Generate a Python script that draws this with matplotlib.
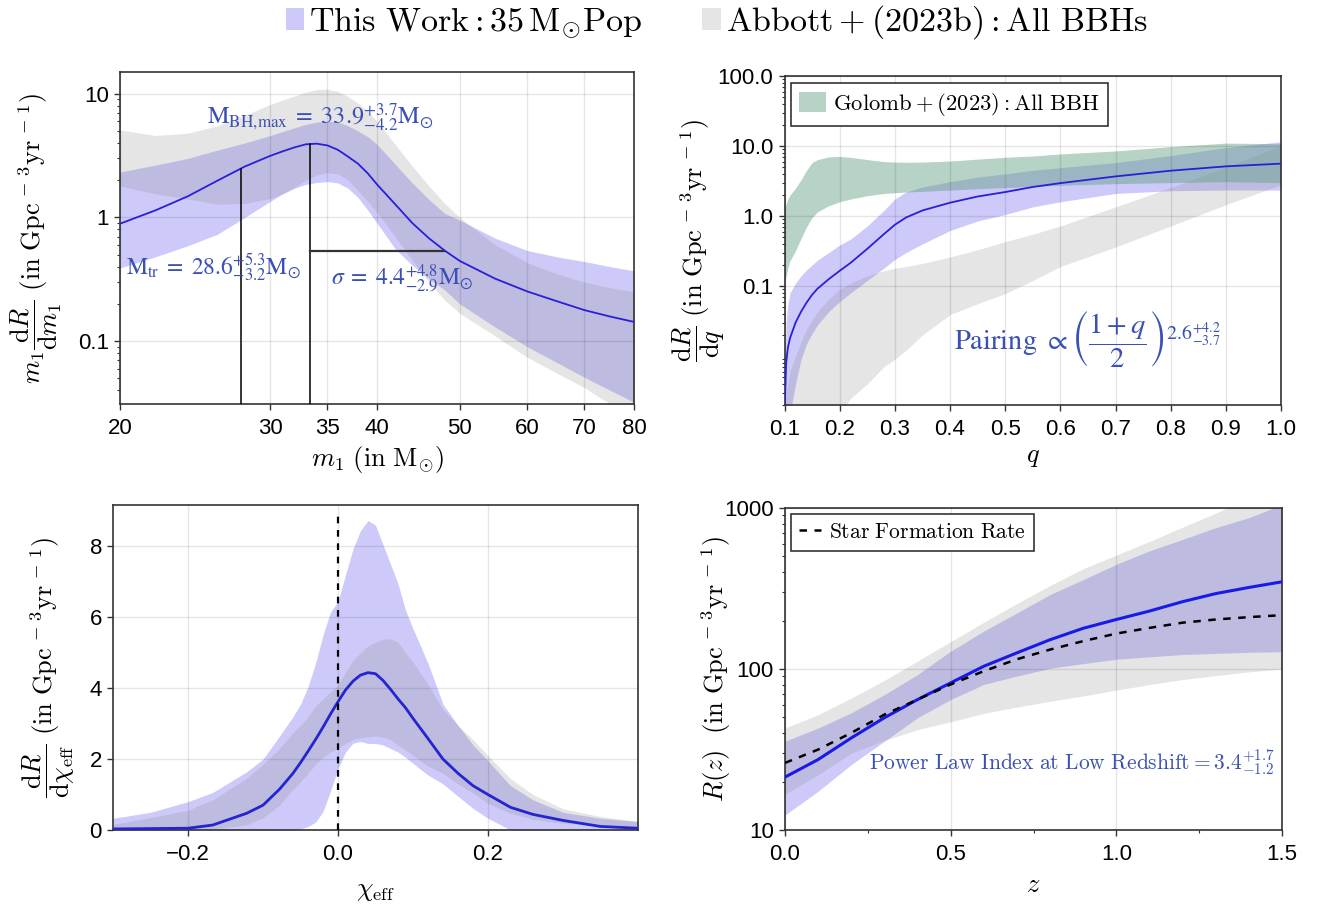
import matplotlib
matplotlib.use("Agg")
import matplotlib.pyplot as plt
import numpy as np
from matplotlib.patches import Patch
from matplotlib.lines import Line2D
from matplotlib.ticker import FixedLocator, NullFormatter, LogLocator

plt.rcParams['mathtext.fontset'] = 'cm'
plt.rcParams['font.family'] = ['Liberation Sans', 'DejaVu Sans']
plt.rcParams['axes.unicode_minus'] = True
TICKSIZE = 16

# ---------------- data: panel 1 (primary mass) ----------------
m1 = [20, 22, 24, 26, 28, 30, 31, 32, 33, 34, 35, 36, 37, 38, 39, 40, 42, 44, 46, 48, 50, 55, 60, 65, 70, 75, 80]
m1_med = [0.89, 1.14, 1.48, 1.98, 2.58, 3.15, 3.42, 3.68, 3.9, 3.95, 3.82, 3.52, 3.1, 2.72, 2.28, 1.85, 1.28, 0.9, 0.68, 0.54, 0.445, 0.32, 0.252, 0.21, 0.178, 0.158, 0.143]
m1_hi = [2.33, 2.65, 3.0, 3.5, 4.0, 4.6, 4.95, 5.3, 5.65, 5.9, 6.0, 5.9, 5.5, 5.0, 4.5, 3.9, 2.7, 1.9, 1.4, 1.08, 0.95, 0.68, 0.54, 0.48, 0.44, 0.4, 0.37]
m1_lo = [0.39, 0.48, 0.59, 0.73, 1.0, 1.35, 1.55, 1.72, 1.85, 1.92, 1.95, 1.9, 1.72, 1.45, 1.15, 0.9, 0.56, 0.41, 0.32, 0.26, 0.2, 0.13, 0.09, 0.067, 0.051, 0.04, 0.032]
m1_ab_hi = [5.1, 4.6, 4.8, 5.5, 6.7, 8.2, 8.9, 9.6, 10.3, 10.8, 10.9, 10.4, 9.5, 8.4, 7.2, 6.0, 3.9, 2.6, 1.8, 1.3, 1.0, 0.6, 0.43, 0.35, 0.30, 0.27, 0.25]
m1_ab_lo = [1.8, 1.55, 1.41, 1.28, 1.3, 1.42, 1.55, 1.75, 2.0, 2.2, 2.3, 2.25, 2.0, 1.65, 1.35, 1.1, 0.7, 0.45, 0.3, 0.215, 0.168, 0.11, 0.074, 0.055, 0.042, 0.031, 0.023]
m1_ticks = [20, 30, 35, 40, 50, 60, 70, 80]
m_tr_line = 27.7
m_max_line = 33.4
sigma_end = 47.9
sigma_level = 0.54

# ---------------- data: panel 2 (mass ratio) ----------------
q = [0.1, 0.103, 0.106, 0.11, 0.12, 0.13, 0.14, 0.15, 0.16, 0.18, 0.2, 0.22, 0.25, 0.28, 0.3, 0.32, 0.35, 0.4, 0.45, 0.5, 0.55, 0.6, 0.7, 0.8, 0.9, 1.0]
q_med = [0.0015, 0.008, 0.013, 0.018, 0.03, 0.043, 0.058, 0.075, 0.092, 0.125, 0.165, 0.215, 0.34, 0.55, 0.75, 0.95, 1.2, 1.55, 1.9, 2.2, 2.6, 2.95, 3.68, 4.44, 5.12, 5.6]
q_hi = [0.0018, 0.03, 0.055, 0.08, 0.11, 0.14, 0.17, 0.2, 0.235, 0.3, 0.385, 0.47, 0.72, 1.2, 1.75, 2.2, 2.6, 3.1, 3.6, 4.0, 4.5, 4.9, 5.8, 7.3, 9.5, 11.5]
q_lo = [0.001, 0.001, 0.001, 0.0015, 0.004, 0.009, 0.015, 0.021, 0.028, 0.043, 0.06, 0.08, 0.12, 0.18, 0.24, 0.3, 0.4, 0.62, 0.85, 1.05, 1.35, 1.6, 2.1, 2.3, 2.35, 2.35]
q_ab_hi = [0.0018, 0.003, 0.004, 0.006, 0.01, 0.016, 0.024, 0.033, 0.043, 0.065, 0.09, 0.11, 0.14, 0.165, 0.18, 0.19, 0.21, 0.26, 0.33, 0.43, 0.55, 0.72, 1.35, 2.55, 5.0, 10.0]
q_ab_lo = [0.001, 0.001, 0.001, 0.001, 0.001, 0.001, 0.001, 0.001, 0.001, 0.001, 0.0015, 0.0025, 0.004, 0.007, 0.009, 0.012, 0.02, 0.039, 0.056, 0.078, 0.12, 0.19, 0.36, 0.72, 1.45, 2.8]
q_go_hi = [1.25, 1.5, 1.75, 2.0, 2.5, 3.3, 4.5, 5.8, 6.4, 7.0, 7.1, 6.9, 6.4, 6.0, 5.9, 5.85, 5.9, 6.1, 6.5, 6.9, 7.2, 7.7, 8.5, 9.8, 11.0, 10.8]
q_go_lo = [0.11, 0.14, 0.18, 0.23, 0.32, 0.48, 0.7, 0.95, 1.15, 1.4, 1.6, 1.75, 1.95, 2.1, 2.15, 2.2, 2.25, 2.35, 2.45, 2.55, 2.65, 2.75, 2.9, 3.0, 3.1, 3.0]
q_ticks = [0.1, 0.2, 0.3, 0.4, 0.5, 0.6, 0.7, 0.8, 0.9, 1.0]

# ---------------- data: panel 3 (effective spin) ----------------
chi = [-0.3, -0.25, -0.2, -0.167, -0.122, -0.1, -0.078, -0.06, -0.05, -0.04, -0.03, -0.02, -0.01, 0.0, 0.01, 0.02, 0.03, 0.04, 0.05, 0.06, 0.07, 0.08, 0.09, 0.1, 0.12, 0.14, 0.16, 0.18, 0.2, 0.23, 0.26, 0.3, 0.35, 0.4]
chi_med = [0.03, 0.04, 0.05, 0.14, 0.47, 0.7, 1.15, 1.6, 1.9, 2.22, 2.55, 2.9, 3.27, 3.62, 3.95, 4.2, 4.37, 4.44, 4.41, 4.22, 3.97, 3.7, 3.45, 3.15, 2.58, 2.0, 1.6, 1.25, 1.0, 0.64, 0.44, 0.27, 0.1, 0.05]
chi_hi = [0.33, 0.5, 0.8, 1.06, 1.64, 2.0, 2.65, 3.2, 3.55, 4.04, 4.7, 5.5, 6.15, 6.45, 7.2, 7.93, 8.45, 8.73, 8.6, 8.05, 7.5, 6.95, 6.2, 5.68, 4.7, 3.55, 2.95, 2.4, 1.95, 1.25, 0.85, 0.5, 0.33, 0.24]
chi_lo = [0, 0, 0, 0, 0, 0, 0, 0, 0.03, 0.1, 0.22, 0.52, 1.1, 1.74, 2.2, 2.45, 2.5, 2.44, 2.44, 2.4, 2.3, 2.2, 2.05, 1.88, 1.55, 1.3, 0.95, 0.61, 0.33, 0.0, 0, 0, 0, 0]
chi_ab_hi = [0.16, 0.35, 0.56, 0.85, 1.46, 1.85, 2.3, 2.75, 2.96, 3.2, 3.5, 3.7, 3.9, 4.08, 4.45, 4.79, 5.0, 5.2, 5.3, 5.38, 5.4, 5.3, 5.0, 4.74, 4.1, 3.4, 2.95, 2.55, 2.1, 1.45, 1.0, 0.6, 0.38, 0.24]
chi_ab_lo = [0.0, 0.0, 0.01, 0.03, 0.14, 0.35, 0.7, 1.15, 1.36, 1.6, 1.85, 2.05, 2.2, 2.3, 2.45, 2.55, 2.6, 2.63, 2.65, 2.62, 2.55, 2.4, 2.25, 2.11, 1.8, 1.6, 1.3, 1.04, 0.75, 0.47, 0.3, 0.19, 0.13, 0.09]
chi_ticks = [-0.2, 0.0, 0.2]
chi_yticks = [0, 2, 4, 6, 8]

# ---------------- data: panel 4 (redshift) ----------------
z = [0.0, 0.1, 0.2, 0.3, 0.4, 0.5, 0.6, 0.7, 0.8, 0.9, 1.0, 1.1, 1.2, 1.3, 1.4, 1.5]
z_med = [21.3, 27.4, 37.3, 49.8, 64.6, 82, 104, 126, 152, 179, 203, 229, 262, 294, 321, 348]
z_sfr = [26.1, 31.6, 40.1, 52.1, 64.6, 80.2, 97, 115, 132, 149, 166, 180, 194, 203, 210, 216]
z_hi = [35.6, 43, 53.4, 69.3, 92.4, 129, 172, 223, 290, 359, 447, 542, 638, 755, 870, 1050]
z_lo = [12.4, 17.4, 25.5, 35.6, 49.8, 64.6, 80.2, 90.4, 101, 108, 115, 119, 123, 125, 127, 128]
z_ab_hi = [43, 52, 66, 85, 112, 148, 195, 255, 330, 420, 510, 620, 760, 930, 1150, 1400]
z_ab_lo = [16.7, 22, 30, 36, 42, 47, 53, 58, 63, 68, 74, 80, 86, 91, 96, 100]
z_ticks = [0.0, 0.5, 1.0, 1.5]

# ---------------- styles ----------------
PURPLE = '#cdcafa'
GREY = '#898989'
GREY_A = 0.22
GREEN = '#5f9f7f'
GREEN_A = 0.45
TXT = '#3a50b4'
W, H = 1320, 908

fig = plt.figure(figsize=(W / 100, H / 100), dpi=100)

def px_axes(l, r, t, b):
    return fig.add_axes([l / W, 1 - b / H, (r - l) / W, (b - t) / H])

ax1 = px_axes(120, 634, 72, 404)
ax2 = px_axes(784.5, 1281, 76, 405)
ax3 = px_axes(113, 638, 505, 830)
ax4 = px_axes(785, 1282, 508, 830)

def style(ax):
    for s in ax.spines.values():
        s.set_color('#333333')
        s.set_linewidth(1.2)
    ax.tick_params(which='both', direction='out', colors='#333333', labelcolor='black',
                   labelsize=TICKSIZE)
    ax.tick_params(axis='x', which='both', pad=6)
    ax.tick_params(axis='y', which='both', pad=4)
    ax.tick_params(which='major', length=4, width=1)
    ax.tick_params(which='minor', length=2.5, width=0.8)
    ax.grid(True, which='major', color='black', alpha=0.1, lw=1)
    ax.set_axisbelow(False)

LBL = 19
UNIT = r"\ (\mathrm{in\ Gpc}^{\,-\,3}\mathrm{yr}^{\,-\,1})"

# ---- panel 1 ----
ax1.fill_between(m1, m1_lo, m1_hi, color=PURPLE, lw=0)
ax1.fill_between(m1, m1_ab_lo, m1_ab_hi, color=GREY, alpha=GREY_A, lw=0)
ax1.plot(m1, m1_med, color='#2a1fd8', lw=1.3, zorder=5)
ax1.set_xscale('log'); ax1.set_yscale('log')
ax1.set_xlim(20, 80); ax1.set_ylim(0.031, 15)
ax1.xaxis.set_major_locator(FixedLocator(m1_ticks))
ax1.set_xticklabels([str(t) for t in m1_ticks])
ax1.xaxis.set_minor_locator(FixedLocator([]))
ax1.xaxis.set_minor_formatter(NullFormatter())
ax1.yaxis.set_major_locator(FixedLocator([0.1, 1, 10]))
ax1.set_yticklabels(['0.1', '1', '10'])
ax1.yaxis.set_minor_locator(LogLocator(base=10, subs=np.arange(2, 10)))
ax1.yaxis.set_minor_formatter(NullFormatter())
style(ax1)
med_tr = np.exp(np.interp(np.log(m_tr_line), np.log(m1), np.log(m1_med)))
med_max = np.exp(np.interp(np.log(m_max_line), np.log(m1), np.log(m1_med)))
ax1.plot([m_tr_line, m_tr_line], [0.031, med_tr], color='black', lw=1.1, zorder=6)
ax1.plot([m_max_line, m_max_line], [0.031, med_max], color='black', lw=1.1, zorder=6)
ax1.plot([m_max_line, sigma_end], [sigma_level, sigma_level], color='#333333', lw=1.6, zorder=6)
ax1.text(0.39, 0.862, r"$\mathrm{M_{BH,\!max}}\;=\;33.9^{+3.7}_{-4.2}\mathrm{M}_{\odot}$",
         transform=ax1.transAxes, ha='center', va='center', color=TXT, fontsize=17.5,
         math_fontfamily='stix', zorder=7)
ax1.text(0.012, 0.41, r"$\mathrm{M_{tr}}\;=\;28.6^{+5.3}_{-3.2}\mathrm{M}_{\odot}$",
         transform=ax1.transAxes, ha='left', va='center', color=TXT, fontsize=17,
         math_fontfamily='stix', zorder=7)
ax1.text(0.41, 0.38, r"$\sigma\;=\;4.4^{+4.8}_{-2.9}\mathrm{M}_{\odot}$",
         transform=ax1.transAxes, ha='left', va='center', color=TXT, fontsize=17,
         math_fontfamily='stix', zorder=7)
ax1.set_xlabel(r"$m_1\ (\mathrm{in\ M}_{\odot})$", fontsize=LBL, labelpad=4)
ax1.set_ylabel(r"$m_1\dfrac{\mathrm{d}R}{\mathrm{d}m_1}" + UNIT + "$", fontsize=LBL)
ax1.yaxis.set_label_coords(-0.108, 0.5)

# ---- panel 2 ----
ax2.fill_between(q, q_lo, q_hi, color=PURPLE, lw=0)
ax2.fill_between(q, q_ab_lo, q_ab_hi, color=GREY, alpha=GREY_A, lw=0)
ax2.fill_between(q, q_go_lo, q_go_hi, color=GREEN, alpha=GREEN_A, lw=0)
ax2.plot(q, q_med, color='#2a1fd8', lw=1.3, zorder=5)
ax2.set_yscale('log')
ax2.set_xlim(0.1, 1.0); ax2.set_ylim(0.002, 100)
ax2.xaxis.set_major_locator(FixedLocator(q_ticks))
ax2.set_xticklabels(['%.1f' % t for t in q_ticks])
ax2.yaxis.set_major_locator(FixedLocator([0.1, 1, 10, 100]))
ax2.set_yticklabels(['0.1', '1.0', '10.0', '100.0'])
ax2.yaxis.set_minor_locator(LogLocator(base=10, subs=np.arange(2, 10)))
ax2.yaxis.set_minor_formatter(NullFormatter())
style(ax2)
leg2 = ax2.legend(handles=[Patch(fc=GREEN, alpha=GREEN_A, ec='none')],
                  labels=[r"$\mathrm{Golomb + (2023) : All\ BBH}$"],
                  loc='upper left', fontsize=16.3, frameon=True, fancybox=False,
                  edgecolor='#333333', framealpha=1, borderaxespad=0.3,
                  borderpad=0.35, handlelength=1.2, handleheight=1.0, handletextpad=0.3)
leg2.get_frame().set_linewidth(1.2)
ax2.text(0.61, 0.2, r"Pairing $\propto \left(\dfrac{1+q}{2}\right)^{2.6^{+4.2}_{-3.7}}$",
         transform=ax2.transAxes, ha='center', va='center', color=TXT, fontsize=20.5,
         family='STIXGeneral', math_fontfamily='stix')
ax2.set_xlabel(r"$q$", fontsize=LBL, labelpad=4)
ax2.set_ylabel(r"$\dfrac{\mathrm{d}R}{\mathrm{d}q}" + UNIT + "$", fontsize=LBL)
ax2.yaxis.set_label_coords(-0.116, 0.5)

# ---- panel 3 ----
ax3.fill_between(chi, chi_lo, chi_hi, color=PURPLE, lw=0)
ax3.fill_between(chi, chi_ab_lo, chi_ab_hi, color=GREY, alpha=GREY_A, lw=0)
ax3.plot(chi, chi_med, color='#2424d0', lw=2, zorder=5)
ax3.plot([0, 0], [0, 9.0], color='black', lw=1.6, ls=(0, (3, 3)), zorder=6)
ax3.set_xlim(-0.3, 0.4); ax3.set_ylim(0, 9.17)
ax3.xaxis.set_major_locator(FixedLocator(chi_ticks))
ax3.set_xticklabels(['\u22120.2', '0.0', '0.2'])
ax3.yaxis.set_major_locator(FixedLocator(chi_yticks))
ax3.set_yticklabels([str(t) for t in chi_yticks])
style(ax3)
ax3.set_xlabel(r"$\chi_{\rm eff}$", fontsize=LBL, labelpad=10)
ax3.set_ylabel(r"$\dfrac{\mathrm{d}R}{\mathrm{d}\chi_{\rm eff}}" + UNIT + "$", fontsize=LBL)
ax3.yaxis.set_label_coords(-0.068, 0.5)

# ---- panel 4 ----
ax4.fill_between(z, z_lo, z_hi, color=PURPLE, lw=0)
ax4.fill_between(z, z_ab_lo, z_ab_hi, color=GREY, alpha=GREY_A, lw=0)
ax4.plot(z, z_med, color='#1a1ae6', lw=2.2, zorder=5)
ax4.plot(z, z_sfr, color='black', lw=1.8, ls=(0, (3, 3)), zorder=6)
ax4.set_yscale('log')
ax4.set_xlim(0, 1.5); ax4.set_ylim(10, 1000)
ax4.xaxis.set_major_locator(FixedLocator(z_ticks))
ax4.set_xticklabels(['%.1f' % t for t in z_ticks])
ax4.xaxis.set_minor_locator(FixedLocator([0.25, 0.75, 1.25]))
ax4.yaxis.set_major_locator(FixedLocator([10, 100, 1000]))
ax4.set_yticklabels(['10', '100', '1000'])
ax4.yaxis.set_minor_locator(LogLocator(base=10, subs=np.arange(2, 10)))
ax4.yaxis.set_minor_formatter(NullFormatter())
style(ax4)
leg4 = ax4.legend(handles=[Line2D([], [], color='black', lw=1.8, ls=(0, (3, 3)))],
                  labels=[r"$\mathrm{Star\ Formation\ Rate}$"],
                  loc='upper left', fontsize=15.5, frameon=True, fancybox=False,
                  edgecolor='#333333', framealpha=1, borderaxespad=0.3,
                  borderpad=0.35, handlelength=1.0, handletextpad=0.4)
leg4.get_frame().set_linewidth(1.2)
ax4.text(0.985, 0.208, r"$\mathrm{Power\ Law\ Index\ at\ Low\ Redshift} = 3.4^{+1.7}_{-1.2}$",
         transform=ax4.transAxes, ha='right', va='center', color=TXT, fontsize=15.5)
ax4.set_xlabel(r"$z$", fontsize=LBL, labelpad=6)
ax4.set_ylabel(r"$R(z)\ " + UNIT + "$", fontsize=LBL)
ax4.yaxis.set_label_coords(-0.105, 0.5)

# ---- top legend ----
fig.legend(handles=[Patch(fc=PURPLE, ec='none'), Patch(fc='#e5e5e5', ec='none')],
           labels=[r"$\mathrm{This\ Work : 35\,M_{\odot}Pop}$",
                   r"$\mathrm{Abbott + (2023b) : All\ BBHs}$"],
           loc='upper center', bbox_to_anchor=(0.543, 1.03), ncol=2, frameon=False,
           fontsize=24.5, handlelength=0.55, handleheight=0.6, handletextpad=0.15,
           columnspacing=1.75)

fig.savefig('out.png', dpi=100)
